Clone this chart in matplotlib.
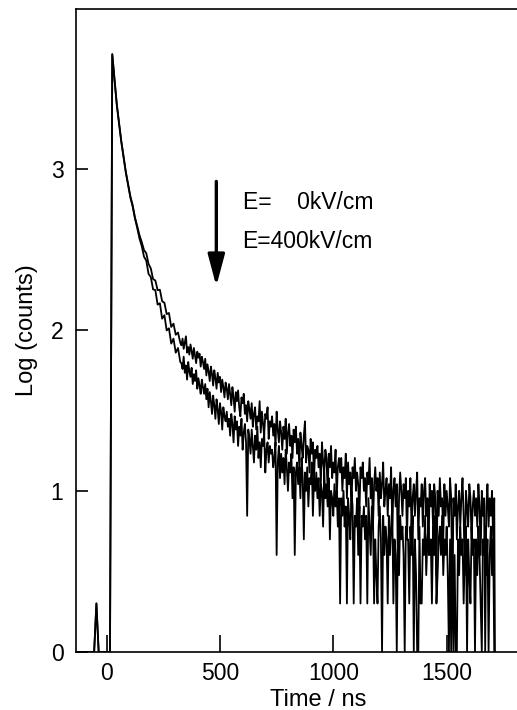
import numpy as np
import matplotlib
matplotlib.use("Agg")
import matplotlib.pyplot as plt

plt.rcParams["font.family"] = ["Liberation Sans", "DejaVu Sans"]

# channel times (ns): 10 ns bins up to 325 ns, 5 ns bins after
time_ns = np.concatenate([np.arange(-135, 326, 10), np.arange(330, 1711, 5), [1713]])

# counts before the pulse (-135 ... 15 ns)
pre_counts = [0, 0, 0, 0, 0, 0, 0, 0, 0, 2, 0, 0, 0, 0, 0, 0]

# E = 0 kV/cm
rise_0kv = [
    5130, 3560, 2500, 1910, 1470, 1180, 950, 800, 670, 592,
    498, 440, 386, 350, 312, 298, 256, 240, 206, 202,
    176, 177, 150, 147, 125, 127, 104, 109, 93, 96,
    83,
]
tail_0kv = [
    80, 88, 76, 83, 91, 72, 78, 70, 81, 74, 66, 77, 69, 62, 73, 67, 71, 59, 68, 63,
    57, 66, 52, 61, 55, 48, 59, 53, 45, 56, 50, 43, 54, 47, 51, 41, 49, 44, 38, 47,
    43, 37, 46, 40, 34, 44, 38, 31, 41, 36, 42, 33, 29, 38, 35, 40, 30, 34, 27, 36,
    32, 28, 35, 25, 30, 33, 24, 29, 27, 36, 23, 31, 26, 22, 30, 28, 33, 21, 27, 25,
    29, 22, 26, 19, 31, 24, 20, 27, 23, 18, 25, 21, 28, 17, 23, 26, 19, 22, 16, 24,
    20, 25, 17, 21, 14, 23, 19, 16, 22, 27, 15, 19, 18, 13, 21, 17, 20, 12, 18, 16,
    19, 14, 17, 11, 20, 15, 13, 18, 16, 10, 17, 14, 19, 12, 15, 13, 18, 9, 14, 16,
    13, 16, 10, 14, 12, 17, 9, 15, 11, 13, 8, 14, 12, 16, 10, 13, 11, 7, 14, 12,
    15, 10, 12, 8, 13, 11, 16, 9, 12, 6, 11, 14, 10, 12, 7, 13, 9, 11, 15, 8,
    10, 12, 7, 11, 9, 14, 6, 10, 12, 8, 11, 4, 9, 13, 10, 7, 11, 9, 12, 5,
    10, 8, 12, 6, 9, 11, 7, 10, 13, 5, 9, 8, 11, 6, 10, 12, 7, 9, 4, 11,
    8, 10, 6, 11, 9, 3, 10, 7, 12, 8, 9, 5, 11, 7, 10, 8, 6, 12, 9, 2,
    9, 7, 11, 5, 8, 10, 6, 9, 12, 7, 3, 10, 8, 6, 11, 9, 5, 8, 10, 7,
    9, 6, 11, 8, 4, 10, 7, 9, 1, 8, 11, 6, 9, 7, 10, 5, 9,
]

# E = 400 kV/cm
rise_400kv = [
    5100, 3520, 2480, 1890, 1460, 1170, 940, 790, 660, 580,
    490, 428, 368, 330, 284, 268, 222, 212, 178, 176,
    143, 146, 117, 123, 99, 102, 82, 88, 72, 77,
    63,
]
tail_400kv = [
    62, 57, 68, 54, 60, 49, 63, 55, 51, 58, 46, 53, 48, 56, 43, 50, 45, 40, 49, 44,
    40, 46, 37, 43, 33, 41, 36, 30, 39, 34, 28, 37, 32, 26, 35, 31, 24, 33, 29, 27,
    31, 25, 28, 22, 30, 26, 20, 29, 24, 27, 19, 25, 22, 28, 18, 23, 26, 20, 7, 24,
    21, 17, 24, 19, 15, 22, 18, 25, 16, 20, 14, 21, 19, 23, 13, 18, 20, 15, 19, 17,
    18, 14, 16, 20, 4, 15, 19, 12, 17, 13, 16, 11, 18, 14, 10, 15, 13, 17, 9, 14,
    4, 13, 15, 11, 14, 9, 16, 12, 5, 13, 10, 14, 8, 12, 11, 15, 7, 12, 10, 13,
    9, 12, 7, 11, 10, 6, 13, 9, 11, 8, 12, 5, 10, 9, 7, 11, 8, 10, 6, 9,
    2, 9, 7, 10, 6, 8, 2, 9, 7, 5, 10, 8, 2, 7, 6, 9, 4, 8, 2, 7,
    6, 8, 5, 7, 2, 9, 6, 4, 8, 7, 2, 5, 3, 2, 6, 8, 5, 1, 7, 4,
    6, 5, 2, 7, 4, 6, 8, 2, 5, 4, 1, 6, 3, 7, 5, 6, 4, 1, 6, 5,
    5, 2, 6, 4, 7, 1, 5, 3, 1, 1, 6, 2, 2, 5, 4, 7, 3, 5, 6, 4,
    5, 2, 6, 4, 7, 2, 3, 5, 6, 4, 7, 3, 5, 4, 6, 3, 1, 5, 1, 6,
    1, 4, 1, 1, 5, 3, 6, 4, 5, 2, 4, 6, 1, 5, 3, 2, 6, 4, 5, 1,
    5, 3, 6, 4, 2, 1, 5, 4, 6, 3, 5, 1, 4, 6, 3, 5, 1,
]

series = [
    pre_counts + rise_0kv + tail_0kv + [0],
    pre_counts + rise_400kv + tail_400kv + [0],
]

fig = plt.figure(figsize=(5.17, 7.10), dpi=100)
ax = fig.add_axes([76 / 517, 58 / 710, 484 / 517, 643 / 710])

for c in series:
    y = np.log10(np.maximum(np.array(c, dtype=float), 1))
    ax.plot(time_ns, y, color="black", lw=1.3)

ax.set_xlim(-135, 2000)
ax.set_ylim(0, 3.99)
ax.set_xticks([0, 500, 1000, 1500])
ax.set_yticks([0, 1, 2, 3])
ax.tick_params(axis="x", direction="in", length=12, width=1.2, labelsize=16.5, pad=7)
ax.tick_params(axis="y", direction="in", length=8.5, width=1.2, labelsize=16.5, pad=9)
for s in ax.spines.values():
    s.set_linewidth(1.2)

ax.set_xlabel("Time / ns", fontsize=17, labelpad=3)
ax.set_ylabel("Log (counts)", fontsize=17, labelpad=9)

# arrow and field labels
ax.annotate("", xy=(484, 2.27), xytext=(484, 2.92),
            arrowprops=dict(arrowstyle="-|>,head_length=1.2,head_width=0.32",
                            mutation_scale=16, lw=2.4, color="black",
                            shrinkA=0, shrinkB=0))
ax.text(600, 2.79, "E=    0kV/cm", fontsize=16.5, va="center", ha="left")
ax.text(600, 2.55, "E=400kV/cm", fontsize=16.5, va="center", ha="left")

fig.savefig("out.png", dpi=100)
